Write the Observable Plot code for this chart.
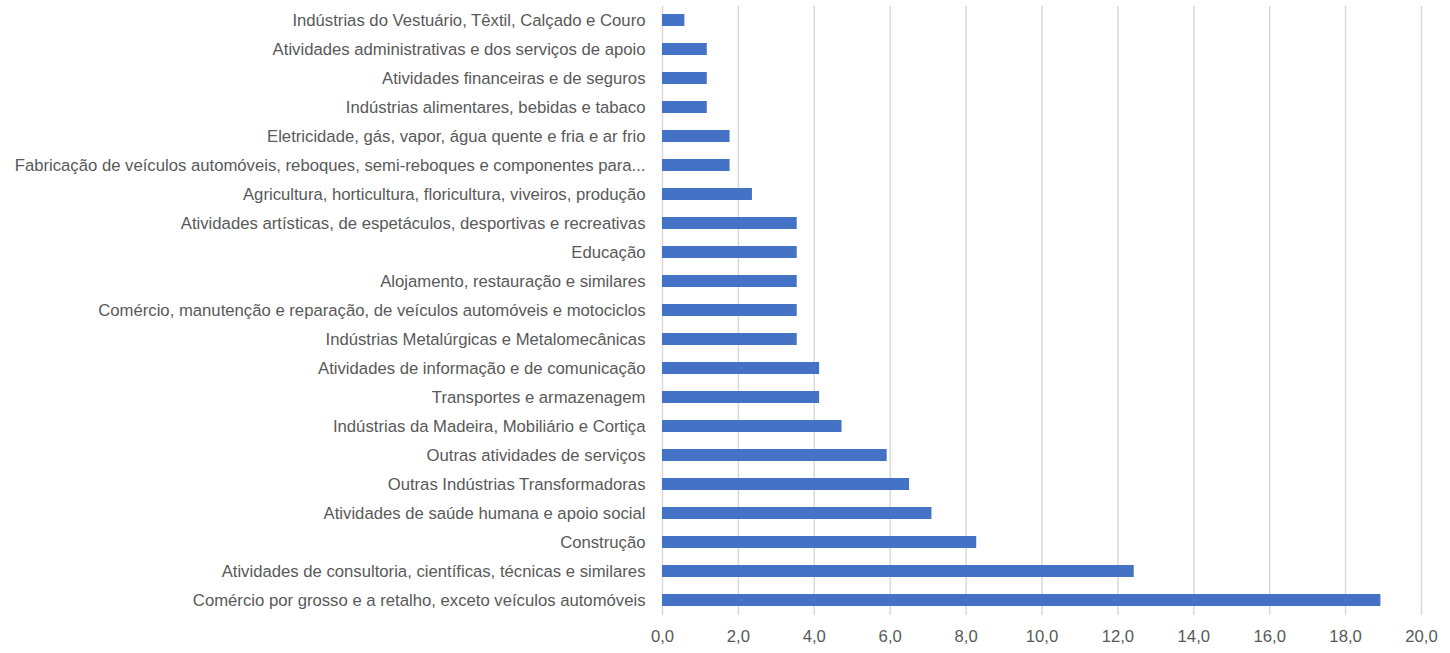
<!DOCTYPE html>
<html>
<head>
<meta charset="utf-8">
<script src="https://cdn.jsdelivr.net/npm/d3@7"></script>
<script src="https://cdn.jsdelivr.net/npm/@observablehq/plot@0.6"></script>
<style>
  html, body { margin: 0; padding: 0; background: #fff; }
</style>
</head>
<body>
<div id="chart"></div>
<script>
const categories = [
  "Indústrias do Vestuário, Têxtil, Calçado e Couro",
  "Atividades administrativas e dos serviços de apoio",
  "Atividades financeiras e de seguros",
  "Indústrias alimentares, bebidas e tabaco",
  "Eletricidade, gás, vapor, água quente e fria e ar frio",
  "Fabricação de veículos automóveis, reboques, semi-reboques e componentes para...",
  "Agricultura, horticultura, floricultura, viveiros, produção",
  "Atividades artísticas, de espetáculos, desportivas e recreativas",
  "Educação",
  "Alojamento, restauração e similares",
  "Comércio, manutenção e reparação, de veículos automóveis e motociclos",
  "Indústrias Metalúrgicas e Metalomecânicas",
  "Atividades de informação e de comunicação",
  "Transportes e armazenagem",
  "Indústrias da Madeira, Mobiliário e Cortiça",
  "Outras atividades de serviços",
  "Outras Indústrias Transformadoras",
  "Atividades de saúde humana e apoio social",
  "Construção",
  "Atividades de consultoria, científicas, técnicas e similares",
  "Comércio por grosso e a retalho, exceto veículos automóveis"
];
const values = [0.59, 1.18, 1.18, 1.18, 1.78, 1.78, 2.37, 3.55, 3.55, 3.55, 3.55, 3.55, 4.14, 4.14, 4.73, 5.92, 6.51, 7.10, 8.28, 12.43, 18.93];
const xTicks = [0, 2, 4, 6, 8, 10, 12, 14, 16, 18, 20];

const data = categories.map((c, i) => ({category: c, value: values[i]}));
const fmt = d => d.toFixed(1).replace(".", ",");

const chart = Plot.plot({
  width: 1450,
  height: 653,
  marginLeft: 662,
  marginRight: 29,
  marginTop: 6,
  marginBottom: 38,
  style: {fontFamily: "'Liberation Sans', Arial, sans-serif", fontSize: "16.7px", color: "#595959", background: "#fff"},
  x: {domain: [0, 20], ticks: xTicks, tickFormat: fmt},
  y: {domain: categories, paddingInner: 0.58, paddingOuter: 0.29},
  marks: [
    Plot.gridX(xTicks, {stroke: "#d9d9d9", strokeOpacity: 1, strokeWidth: 1.5}),
    Plot.barX(data, {x: "value", y: "category", fill: "#4472C4"}),
    Plot.axisX({ticks: xTicks, tickSize: 0, tickPadding: 15, label: null, tickFormat: fmt, fontSize: 16.7}),
    Plot.axisY({tickSize: 0, tickPadding: 17, label: null, fontSize: 16.7, textOverflow: null, lineWidth: Infinity})
  ]
});
document.getElementById("chart").appendChild(chart);
</script>
</body>
</html>
